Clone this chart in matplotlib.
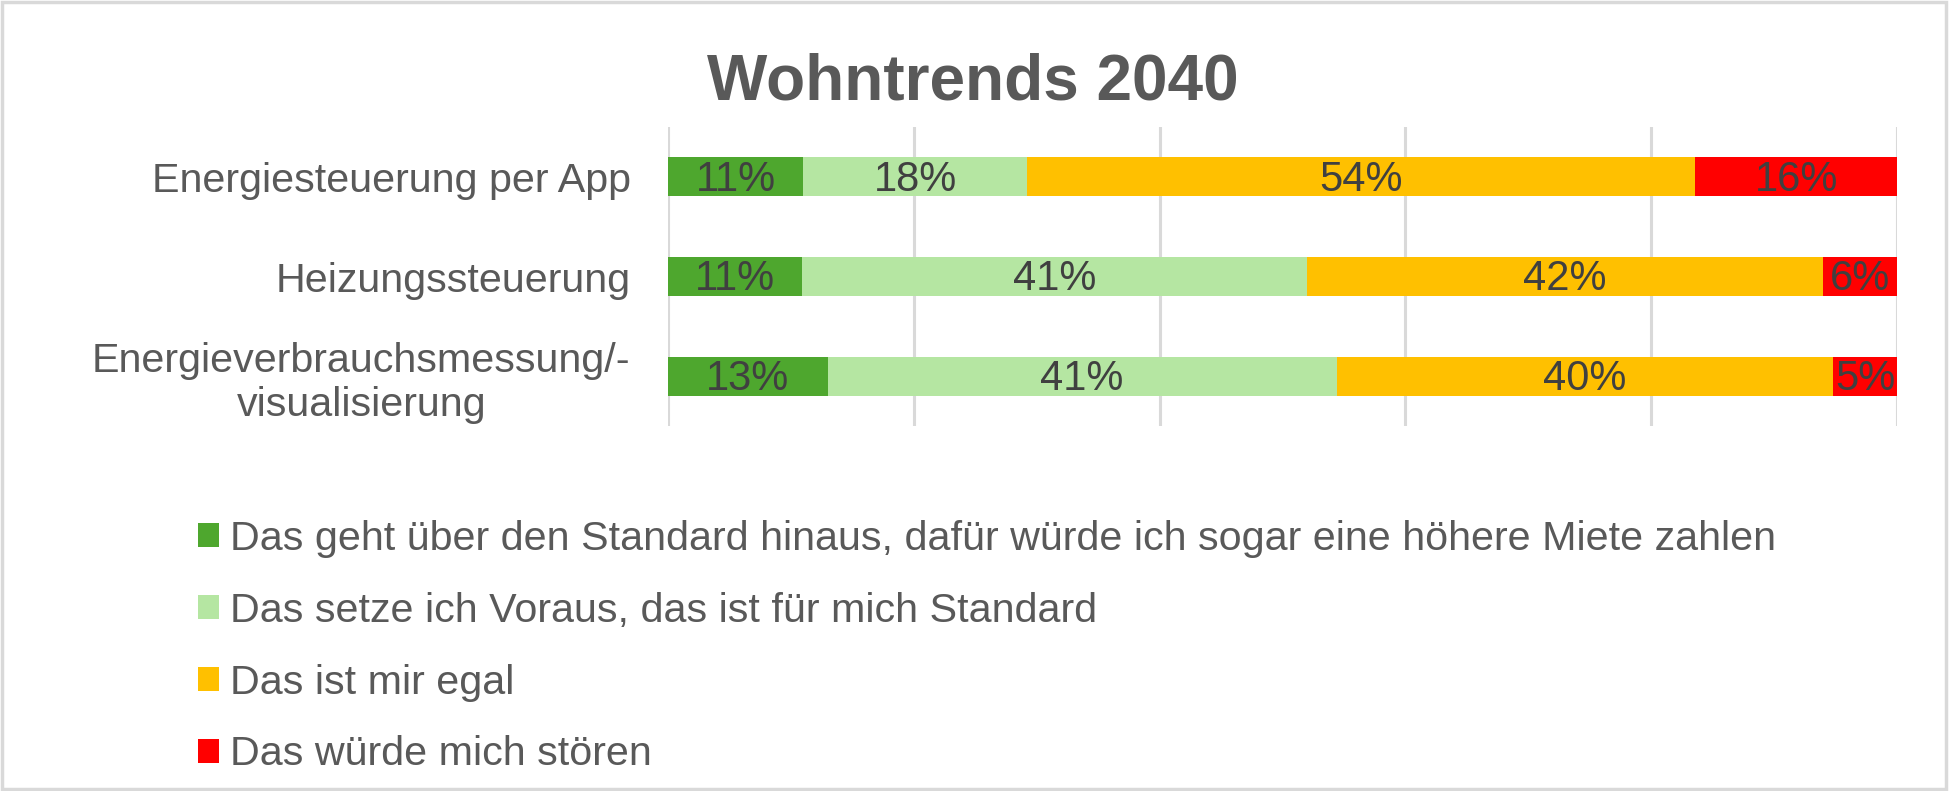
""" Wohntrends 2040 - stacked bar chart """

import matplotlib.pyplot as plt
from matplotlib.patches import Patch, Rectangle

plt.rcParams['font.family'] = ['Liberation Sans', 'DejaVu Sans']

# --- data ---
categories = [
    "Energiesteuerung per App",
    "Heizungssteuerung",
    "Energieverbrauchsmessung/-\nvisualisierung",
]
series_names = [
    "Das geht über den Standard hinaus, dafür würde ich sogar eine höhere Miete zahlen",
    "Das setze ich Voraus, das ist für mich Standard",
    "Das ist mir egal",
    "Das würde mich stören",
]
hoehere_miete = [11.0, 10.9, 13.0]
standard = [18.2, 41.1, 41.4]
egal = [54.4, 42.0, 40.4]
stoeren = [16.4, 6.0, 5.2]

colors = ["#4EA72E", "#B5E6A2", "#FFC000", "#FF0000"]
text_grey = "#595959"
label_grey = "#404040"
grid_grey = "#D9D9D9"

# --- figure ---
W, H = 1950, 791
fig = plt.figure(figsize=(W / 100, H / 100), dpi=100)
fig.patches.append(Rectangle((0.001, 0.002), 0.997, 0.995, transform=fig.transFigure,
                             fill=False, edgecolor=grid_grey, linewidth=2.5))

ax = fig.add_axes([668 / W, 1 - 426 / H, 1229 / W, 299 / H])

series = [hoehere_miete, standard, egal, stoeren]
y = range(len(categories))
left = [0.0] * len(categories)
for vals, name, col in zip(series, series_names, colors):
    bars = ax.barh(y, vals, left=left, height=0.39, color=col, label=name, zorder=2)
    anns = ax.bar_label(bars, labels=[f"{v:.0f}%" for v in vals], label_type="center",
                        fontsize=30, color=label_grey)
    for a in anns:
        a.xyann = (0, -2)  # digits sit a bit lower in the original
    left = [l + v for l, v in zip(left, vals)]

ax.set_xlim(0, 100)
ax.set_ylim(2.5, -0.5)
ax.set_xticks([0, 20, 40, 60, 80, 100])
ax.xaxis.grid(True, color=grid_grey, linewidth=2.2, zorder=0)
ax.tick_params(axis="x", length=0, labelbottom=False)
ax.tick_params(axis="y", length=0, pad=27)
ax.set_yticks(list(y))
ax.set_yticklabels(categories, fontsize=29.7, color=text_grey)
for lbl in ax.get_yticklabels():
    lbl.set_multialignment("center")
for s in ax.spines.values():
    s.set_visible(False)

fig.text(973 / W, 1 - 99 / H, "Wohntrends 2040", ha="center", va="baseline",
         fontsize=46, fontweight="bold", color=text_grey)

handles = [Patch(facecolor=c, edgecolor="none") for c in colors]
fig.legend(handles, series_names, loc="upper left",
           bbox_to_anchor=(198 / W, 1 - 520 / H), frameon=False,
           fontsize=29.7, labelcolor=text_grey, handlelength=0.51, handleheight=0.51,
           handletextpad=0.27, labelspacing=0.82, borderpad=0, borderaxespad=0)

fig.savefig("out.png", dpi=100)
